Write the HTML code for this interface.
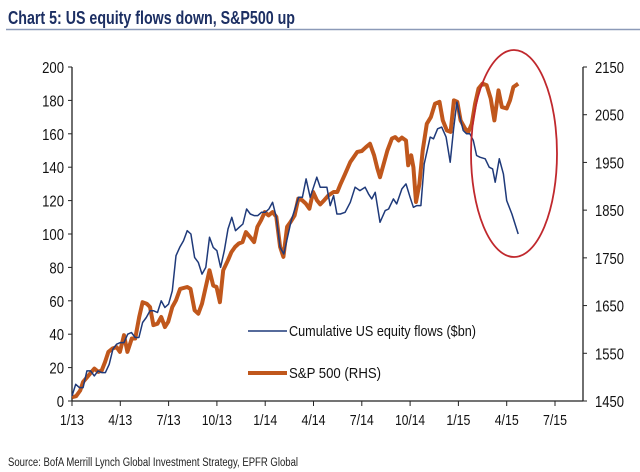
<!DOCTYPE html>
<html><head><meta charset="utf-8"><style>
html,body{margin:0;padding:0;background:#fff;width:640px;height:472px;overflow:hidden}
svg{display:block;font-family:"Liberation Sans",Arial,sans-serif}
</style></head><body>
<svg id="c" width="640" height="472" viewBox="0 0 640 472">
<text x="8" y="24" font-size="18" font-weight="bold" fill="#1c2f63" textLength="287" lengthAdjust="spacingAndGlyphs">Chart 5: US equity flows down, S&amp;P500 up</text>
<line x1="6" y1="29.5" x2="640" y2="29.5" stroke="#8c9ab8" stroke-width="1.5"/>
<text x="8" y="466" font-size="11.5" fill="#222" textLength="290" lengthAdjust="spacingAndGlyphs">Source: BofA Merrill Lynch Global Investment Strategy, EPFR Global</text>
</svg>
<script>
const xTickLabels=["1/13","4/13","7/13","10/13","1/14","4/14","7/14","10/14","1/15","4/15","7/15"];
const leftTicks=[0,20,40,60,80,100,120,140,160,180,200];
const rightTicks=[1450,1550,1650,1750,1850,1950,2050,2150];
// weeks since start of Jan 2013
const flowWeeks=[0,1,2,3,4,5,6,7,8,9,10,11,12,13,14,15,16,17,18,19,20,21,22,23,24,25,26,27,28,29,30,31,32,33,34,35,36,37,38,39,40,41,42,43,44,45,46,47,48,49,50,51,52,53,54,55,56,57,58,59,60,61,62,63,64.1,65.9,66.8,68.6,69.5,70.4,71.3,72.2,73.5,74.9,76.2,77.5,78.9,79.8,80.7,81.6,82.9,84.3,85.2,86.5,87.4,88.8,89.9,91,91.9,92.8,93.9,94.8,96.4,97.3,98.4,99.5,100.7,101.8,102.7,103.6,104.4,105.3,106.2,107.1,108,108.9,109.8,111.2,112.3,113.2,113.9,115,116.1,117,118.4,120.1];
const flowValues=[3,10,8,8,18,18,15,18,17,17,22,31,34,35,35,40,41,38,38,47,50,54,54,53,60,56,58,66,87,92,96,102,100,86,83,76,80,98,92,90,80,90,103,110,102,104,106,115,112,111,111,113,113,115,119,110,92,88,98,108,115,122,122,133,122,134,128,128,117,123,112,112,113,119,128,126,128,124,121,125,107,114,115,121,118,127,130,122,116,117,117,142,158,157,163,164,158,143,163,179,170,162,160,160,156,147,146,145,140,139,131,145,136,120,112,100];
const spxWeeks=[0,1.1,2.2,3,4.1,6,7.1,8,8.9,9.8,10.9,12,12.9,14,14.9,16.1,17,18.1,19,20.1,21,21.9,23,24,25,25.9,27,28,29.1,31,31.9,33,34,35,37,38,38.9,39.8,40.7,42,42.9,43.9,44.9,45.9,46.8,47.9,49,49.9,50.9,51.9,52.9,54,55,56,56.9,57.9,58.8,59.9,60.9,61.9,62.9,63.9,64.9,65.9,66.8,67.9,69,70.4,71.4,72.3,73.5,74.9,75.8,76.8,78,79.1,80.2,81.3,82.2,82.9,83.8,84.9,86.1,87,87.9,88.8,89.9,90.5,91.3,91.9,92.6,93.5,94.4,95.5,96.6,97.7,98.9,99.8,100.9,101.9,102.8,103.7,104.6,105.8,106.7,107.6,108.5,109.4,110.5,111.6,112.7,113.7,114.8,115.7,117,117.9,118.8,120.1];
const spxValues=[1458,1460,1472,1490,1500,1518,1511,1514,1532,1553,1560,1563,1553,1588,1553,1581,1581,1626,1657,1654,1647,1609,1612,1626,1605,1616,1647,1661,1685,1689,1685,1640,1633,1654,1724,1692,1689,1657,1724,1745,1762,1773,1780,1783,1804,1794,1783,1815,1829,1846,1839,1846,1836,1773,1752,1815,1825,1839,1874,1871,1864,1853,1888,1871,1862,1871,1881,1888,1888,1905,1926,1951,1961,1972,1974,1982,1989,1965,1937,1919,1944,1975,2000,2003,1996,2002,1996,1944,1965,1940,1867,1905,1975,2031,2045,2073,2077,2038,2017,2014,2080,2077,2038,2021,2014,2031,2073,2105,2115,2112,2084,2038,2101,2066,2063,2080,2108,2115];

const NS="http://www.w3.org/2000/svg";
const svg=document.getElementById('c');
const X0=72,QW=48.3,Y0=401,Y1=67;
const xw=w=>X0+w*QW/13;
const xq=i=>X0+i*QW;
const yL=v=>Y0-(v/200)*(Y0-Y1);
const yR=v=>Y0-((v-1450)/700)*(Y0-Y1);
function mk(tag,attrs,parent){const e=document.createElementNS(NS,tag);for(const k in attrs)e.setAttribute(k,attrs[k]);(parent||svg).appendChild(e);return e;}

const axes=mk('g',{});


const la=mk('line',{x1:X0,y1:Y1,x2:X0,y2:Y0,stroke:'#222','stroke-width':1.3},axes);


const ra=mk('line',{x1:583,y1:Y1,x2:583,y2:Y0,stroke:'#222','stroke-width':1.3},axes);


const xa=mk('line',{x1:X0,y1:Y0,x2:583,y2:Y0,stroke:'#222','stroke-width':1.3},axes);


leftTicks.forEach(v=>{
  mk('line',{x1:X0-4,y1:yL(v),x2:X0,y2:yL(v),stroke:'#222'},axes);
  const t=mk('text',{x:X0-8,y:yL(v)+6,'font-size':16,'text-anchor':'end',fill:'#111',textLength:String(v).length*7.3,lengthAdjust:'spacingAndGlyphs'},axes);
  t.textContent=v;
  
  
});
rightTicks.forEach(v=>{
  mk('line',{x1:583,y1:yR(v),x2:587,y2:yR(v),stroke:'#222'},axes);
  const t=mk('text',{x:595,y:yR(v)+6,'font-size':16,fill:'#111',textLength:29,lengthAdjust:'spacingAndGlyphs'},axes);
  t.textContent=v;
  
  
});
xTickLabels.forEach((s,i)=>{
  mk('line',{x1:xq(i),y1:Y0,x2:xq(i),y2:Y0+5,stroke:'#222'},axes);
  const t=mk('text',{x:xq(i),y:Y0+24,'font-size':15,'text-anchor':'middle',fill:'#111',textLength:s.length*6,lengthAdjust:'spacingAndGlyphs'},axes);
  t.textContent=s;
  
  
});

const sp=mk('polyline',{points:spxWeeks.map((w,i)=>xw(w).toFixed(1)+','+yR(spxValues[i]).toFixed(1)).join(' '),fill:'none',stroke:'#c0571c','stroke-width':4,'stroke-linejoin':'round'});


const fl=mk('polyline',{points:flowWeeks.map((w,i)=>xw(w).toFixed(1)+','+yL(flowValues[i]).toFixed(1)).join(' '),fill:'none',stroke:'#1f3a7a','stroke-width':1.5,'stroke-linejoin':'round'});



const el=mk('ellipse',{cx:514,cy:153.5,rx:43,ry:103.5,fill:'none',stroke:'#c0282d','stroke-width':1.8});



const lg=mk('g',{});


const l1=mk('line',{x1:248,y1:331,x2:287,y2:331,stroke:'#1f3a7a','stroke-width':1.5},lg);


const t1=mk('text',{x:289,y:336,'font-size':15,fill:'#111',textLength:187,lengthAdjust:'spacingAndGlyphs'},lg);
t1.textContent='Cumulative US equity flows ($bn)';


const l2=mk('line',{x1:248,y1:373,x2:287,y2:373,stroke:'#c0571c','stroke-width':4},lg);


const t2=mk('text',{x:289,y:378,'font-size':15,fill:'#111',textLength:92,lengthAdjust:'spacingAndGlyphs'},lg);
t2.textContent='S&P 500 (RHS)';


</script>
</body></html>
